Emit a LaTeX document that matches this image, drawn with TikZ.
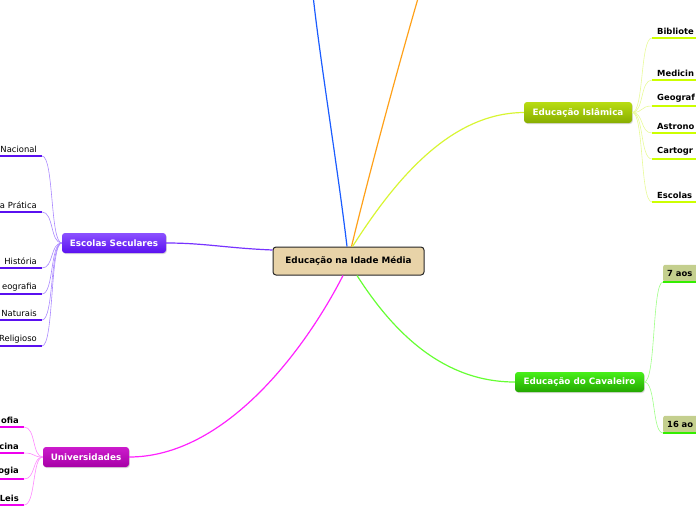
\documentclass[tikz,border=0pt]{standalone}
\usepackage{fontspec}
\setmainfont{DejaVu Sans}
\usepackage{tikz}
\usetikzlibrary{shadows}
\usepackage{xcolor}

\definecolor{rootfill}{HTML}{E8D3A8}
\definecolor{secline}{HTML}{7733FF}
\definecolor{sectwig}{HTML}{AA88FF}
\definecolor{secbar}{HTML}{5A10F0}
\definecolor{uniline}{HTML}{FF22FF}
\definecolor{unitwig}{HTML}{FF88FF}
\definecolor{unibar}{HTML}{EE00EE}
\definecolor{islline}{HTML}{D8F533}
\definecolor{isltwig}{HTML}{E8FA99}
\definecolor{islbar}{HTML}{CCFF00}
\definecolor{isltop}{HTML}{B8DC12}
\definecolor{islbottom}{HTML}{88AE00}
\definecolor{cavline}{HTML}{66FF33}
\definecolor{cavtwig}{HTML}{A0FF88}
\definecolor{cavbar}{HTML}{33EE00}
\definecolor{cavfill}{HTML}{C4CF8E}
\definecolor{blueline}{HTML}{1A5CFF}
\definecolor{orangeline}{HTML}{FFA11A}

\begin{document}
\begin{tikzpicture}[
    x=1pt, y=-1pt,
    root/.style={rectangle, draw=black!85, line width=1pt, rounded corners=3pt, fill=rootfill,
        minimum width=151pt, minimum height=28pt, font=\bfseries\fontsize{8.8}{10}\selectfont},
    topic/.style={rectangle, rounded corners=3pt, text=white, minimum height=20pt, inner sep=0pt,
        font=\bfseries\fontsize{8.8}{10}\selectfont,
        drop shadow={opacity=0.3, shadow xshift=0.8pt, shadow yshift=-1pt}},
    leafL/.style={anchor=south east, text width=50pt, align=right, inner xsep=5pt, inner ysep=3pt,
        font=\fontsize{8.4}{10}\selectfont},
    leafR/.style={anchor=south west, text width=50pt, align=left, inner xsep=5pt, inner ysep=3pt,
        font=\bfseries\fontsize{8.4}{10}\selectfont},
    agebox/.style={anchor=south west, fill=cavfill, rounded corners=2pt, minimum height=17pt,
        text width=40pt, align=left, inner xsep=4pt, inner ysep=0pt, font=\bfseries\fontsize{8.4}{10}\selectfont},
    line/.style={line width=1.2pt},
    twig/.style={line width=0.6pt},
    bar/.style={line width=2pt}
]
\useasboundingbox (0,0) rectangle (696,520);

% Central and main topics
\node[root] (root) at (348.5,261) {Educação na Idade Média};
\node[topic, top color=secline!85!white, bottom color=secbar, minimum width=104pt] (seculares) at (114,243) {Escolas Seculares};
\node[topic, top color=uniline!80!black, bottom color=unibar!70!black, minimum width=86pt] (universidades) at (86,457) {Universidades};
\node[topic, top color=isltop, bottom color=islbottom, minimum width=108pt, minimum height=21pt] (islamica) at (578,112.5) {Educação Islâmica};
\node[topic, top color=cavbar!90!white, bottom color=cavbar!70!black, minimum width=129pt] (cavaleiro) at (579.5,382) {Educação do Cavaleiro};

% Branches leaving the picture
\coordinate (blueend) at (313,-5);
\coordinate (orangeend) at (419,-5);
\draw[line, blueline] ([xshift=-1.5pt]root.north) .. controls (338,170) and (320,60) .. (blueend);
\draw[line, orangeline] ([xshift=3pt]root.north) .. controls (370,170) and (400,60) .. (orangeend);

% Main branches
\draw[line, secline] ([yshift=11pt]root.west) .. controls (225,248) and (205,243) .. (seculares.east);
\draw[line, uniline] ([xshift=-5.5pt]root.south) .. controls (305,350) and (225,457) .. (universidades.east);
\draw[line, islline] ([xshift=4pt]root.north) .. controls (395,180) and (450,113) .. (islamica.west);
\draw[line, cavline] ([xshift=8.5pt]root.south) .. controls (395,335) and (445,382) .. (cavaleiro.west);

% Escolas Seculares
\foreach \y/\name/\txt in {156/s1/Nacional, 212/s2/a Prática, 268/s3/História, 294/s4/eografia, 320/s5/Naturais, 346/s6/Religioso} {
    \node[leafL] (\name) at (42,\y) {\txt};
    \draw[bar, secbar] (\name.south west) -- (\name.south east);
    \draw[twig, sectwig] (\name.south east) .. controls (54,\y) and (50,243) .. (seculares.west);
}

% Universidades
\foreach \y/\name/\txt in {427/u1/ofia, 453/u2/cina, 479/u3/ogia, 505/u4/Leis} {
    \node[leafL, font=\bfseries\fontsize{8.4}{10}\selectfont] (\name) at (24,\y) {\txt};
    \draw[bar, unibar] (\name.south west) -- (\name.south east);
    \draw[twig, unitwig] (\name.south east) .. controls (36,\y) and (32,457) .. (universidades.west);
}

% Educacao Islamica
\foreach \y/\name/\txt in {38/i1/Bibliote, 80/i2/Medicin, 106/i3/Geograf, 133/i4/Astrono, 159/i5/Cartogr, 202/i6/Escolas} {
    \node[leafR] (\name) at (652,\y) {\txt};
    \draw[bar, islbar] (\name.south west) -- (\name.south east);
    \draw[twig, isltwig] (\name.south west) .. controls (640,\y) and (644,112.5) .. (islamica.east);
}

% Educacao do Cavaleiro
\foreach \y/\name/\txt in {282/c1/7 aos, 433/c2/16 ao} {
    \node[agebox] (\name) at (663,\y) {\txt};
    \draw[bar, cavbar] (\name.south west) -- (\name.south east);
    \draw[twig, cavtwig] (\name.south west) .. controls (652,\y) and (656,382) .. (cavaleiro.east);
}

\end{tikzpicture}
\end{document}
